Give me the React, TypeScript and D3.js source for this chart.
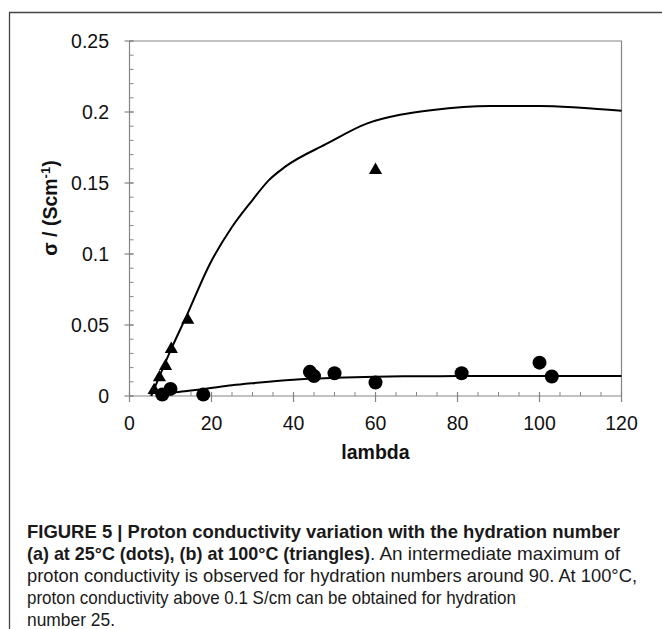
import React from "react";
import * as d3 from "d3";

const W = 662;
const H = 629;

// 25°C measurements (dots)
const dotsLambda = [8, 10, 18, 44, 45, 50, 60, 81, 100, 103];
const dotsSigma = [0.001, 0.005, 0.001, 0.017, 0.014, 0.016, 0.0095, 0.016, 0.0235, 0.0137];

// 100°C measurements (triangles)
const triLambda = [6, 7.3, 8.8, 10.2, 14.2, 60];
const triSigma = [0.004, 0.013, 0.021, 0.033, 0.0535, 0.159];

// fitted curve at 100°C
const fit100Lambda = [5.3, 10, 14, 19.6, 25, 30, 34, 38, 48, 58, 66, 74, 88, 100, 110, 120];
const fit100Sigma = [0, 0.032, 0.057, 0.093, 0.119, 0.138, 0.152, 0.1615, 0.1775, 0.192, 0.198, 0.2014, 0.2042, 0.2043, 0.203, 0.2009];

// fitted curve at 25°C
const fit25Lambda = [8, 10, 14, 18, 25, 30, 40, 50, 60, 70, 80, 100, 120];
const fit25Sigma = [0.0005, 0.002, 0.0035, 0.0048, 0.0075, 0.009, 0.0115, 0.0128, 0.0136, 0.0139, 0.014, 0.014, 0.014];

const xTicks = [0, 20, 40, 60, 80, 100, 120];
const yTicks = [0, 0.05, 0.1, 0.15, 0.2, 0.25];
const yTickLabels = ["0", "0.05", "0.1", "0.15", "0.2", "0.25"];

const xMinor = d3.range(0, 120.01, 5);
const yMinor = d3.range(0, 0.2501, 0.01);

const captionLines = [
  [{ t: "FIGURE 5 | Proton conductivity variation with the hydration number", b: true, x0: 27, x1: 620 }],
  [
    { t: "(a) at 25°C (dots), (b) at 100°C (triangles)", b: true, x0: 27, x1: 370 },
    { t: ". An intermediate maximum of", b: false, x0: 370, x1: 620 },
  ],
  [{ t: "proton conductivity is observed for hydration numbers around 90. At 100°C,", b: false, x0: 27, x1: 637 }],
  [{ t: "proton conductivity above 0.1 S/cm can be obtained for hydration", b: false, x0: 27, x1: 516 }],
  [{ t: "number 25.", b: false, x0: 27, x1: 115 }],
];

const CAP_SIZE = 18.5;
const CAP_FONT = "'Liberation Sans', Arial, sans-serif";

export default function App() {
  const x = d3.scaleLinear().domain([0, 120]).range([129.5, 621.5]);
  const y = d3.scaleLinear().domain([0, 0.25]).range([396, 41]);

  const line = d3
    .line<[number, number]>()
    .x((d) => x(d[0]))
    .y((d) => y(d[1]))
    .curve(d3.curveMonotoneX);

  const fit100 = fit100Lambda.map((l, i) => [l, fit100Sigma[i]] as [number, number]);
  const fit25 = fit25Lambda.map((l, i) => [l, fit25Sigma[i]] as [number, number]);

  const triPath = d3.symbol().type(d3.symbolTriangle).size(75)();
  const axisColor = "#858585";
  const tickFont = "'Liberation Sans', Arial, sans-serif";

  const x0 = x(0);
  const y0 = y(0);

  return (
    <svg
      width={W}
      height={H}
      style={{ position: "absolute", left: 0, top: 0, background: "#fff" }}
    >
      <rect x={0} y={0} width={W} height={H} fill="#fff" />
      {/* outer frame */}
      <path d={`M9.5,${H + 2} L9.5,12.5 L${W + 2},12.5`} fill="none" stroke="#444" strokeWidth={1.3} />

      {/* plot border top/right */}
      <path
        d={`M${x0},${y(0.25)} L${x(120)},${y(0.25)} L${x(120)},${y0}`}
        fill="none"
        stroke={axisColor}
        strokeWidth={1.2}
      />
      {/* axes */}
      <line x1={x0} x2={x0} y1={y(0.25)} y2={y0} stroke={axisColor} strokeWidth={1.2} />
      <line x1={x0} x2={x(120)} y1={y0} y2={y0} stroke={axisColor} strokeWidth={1.2} />

      {/* minor ticks */}
      {yMinor.map((v, i) => (
        <line key={"ym" + i} x1={x0} x2={x0 + 4} y1={y(v)} y2={y(v)} stroke={axisColor} strokeWidth={1} />
      ))}
      {xMinor.map((v, i) => (
        <line key={"xm" + i} x1={x(v)} x2={x(v)} y1={y0} y2={y0 - 4} stroke={axisColor} strokeWidth={1} />
      ))}
      {/* major ticks */}
      {yTicks.map((v, i) => (
        <line key={"yM" + i} x1={x0 - 5} x2={x0 + 4} y1={y(v)} y2={y(v)} stroke={axisColor} strokeWidth={1.2} />
      ))}
      {xTicks.map((v, i) => (
        <line key={"xM" + i} x1={x(v)} x2={x(v)} y1={y0 - 4} y2={y0 + 6} stroke={axisColor} strokeWidth={1.2} />
      ))}

      {/* tick labels */}
      {yTicks.map((v, i) => (
        <text
          key={"yl" + i}
          x={109}
          y={y(v)}
          dy="0.36em"
          textAnchor="end"
          fontFamily={tickFont}
          fontSize={19.5}
          fill="#111"
        >
          {yTickLabels[i]}
        </text>
      ))}
      {xTicks.map((v, i) => (
        <text
          key={"xl" + i}
          x={x(v)}
          y={430}
          textAnchor="middle"
          fontFamily={tickFont}
          fontSize={19.5}
          fill="#111"
        >
          {v}
        </text>
      ))}

      {/* axis titles */}
      <text
        x={(x0 + x(120)) / 2}
        y={459}
        textAnchor="middle"
        fontFamily={tickFont}
        fontWeight="bold"
        fontSize={19.5}
        fill="#111"
      >
        lambda
      </text>
      <text
        transform={`translate(57,208) rotate(-90)`}
        textAnchor="middle"
        fontFamily={tickFont}
        fontWeight="bold"
        fontSize={19.5}
        fill="#111"
      >
        σ / (Scm
        <tspan fontSize={13} baselineShift="super">
          -1
        </tspan>
        )
      </text>

      {/* curves */}
      <path d={line(fit100) || ""} fill="none" stroke="#000" strokeWidth={2} />
      <path d={line(fit25) || ""} fill="none" stroke="#000" strokeWidth={2} />

      {/* markers */}
      {triLambda.map((l, i) => (
        <path key={"t" + i} d={triPath || ""} transform={`translate(${x(l)},${y(triSigma[i])})`} fill="#000" />
      ))}
      {dotsLambda.map((l, i) => (
        <circle key={"c" + i} cx={x(l)} cy={y(dotsSigma[i])} r={7} fill="#000" />
      ))}

      {/* caption */}
      {captionLines.map((parts, i) => (
        <text key={"cap" + i} y={537.5 + i * 22.2} fontFamily={CAP_FONT} fontSize={CAP_SIZE} fill="#1a1a1a">
          {parts.map((p, j) => (
            <tspan
              key={j}
              x={p.x0}
              fontWeight={p.b ? "bold" : "normal"}
              textLength={p.x1 - p.x0}
              lengthAdjust="spacingAndGlyphs"
            >
              {p.t}
            </tspan>
          ))}
        </text>
      ))}
    </svg>
  );
}
